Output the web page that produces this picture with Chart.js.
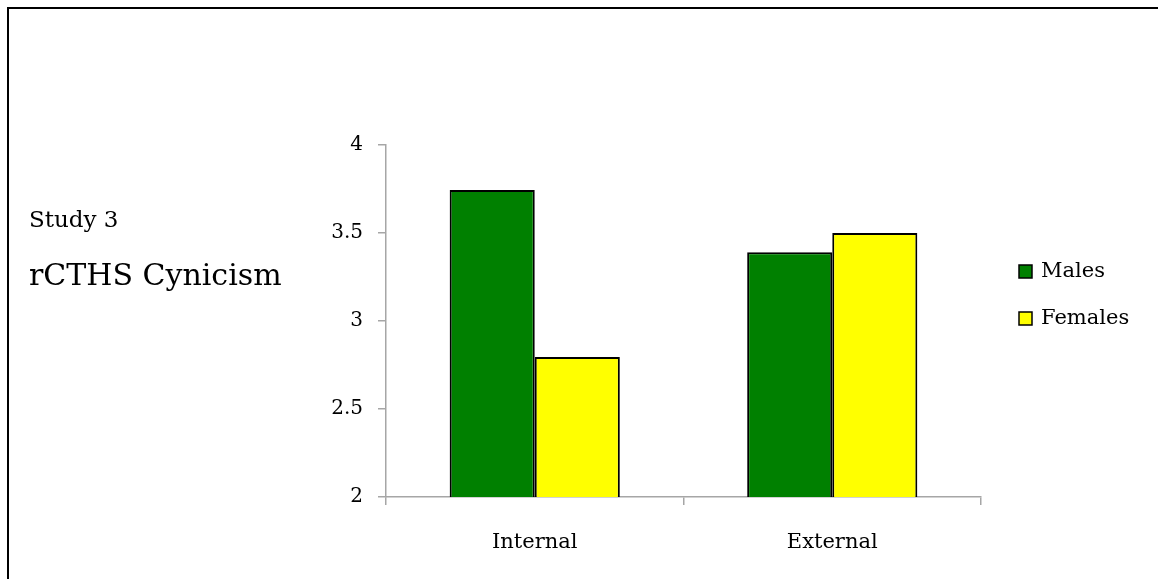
<!DOCTYPE html>
<html>
<head>
<meta charset="utf-8">
<script src="https://cdn.jsdelivr.net/npm/chart.js@4"></script>
<style>
html,body{margin:0;padding:0;background:#fff;}
#wrap{position:relative;width:1158px;height:579px;}
</style>
</head>
<body>
<div id="wrap"><canvas id="c" width="1158" height="579"></canvas></div>
<script>
const categories = ["Internal", "External"];
const seriesNames = ["Males", "Females"];
const males = [3.744, 3.39];
const females = [2.795, 3.5];
const yTicks = [2, 2.5, 3, 3.5, 4];
const subtitleText = "Study 3";
const titleText = "rCTHS Cynicism";

const FONT = "'DejaVu Serif', serif";

const decor = {
  id: 'decor',
  afterDraw(chart) {
    const ctx = chart.ctx;
    ctx.save();
    ctx.strokeStyle = '#000';
    ctx.lineWidth = 2;
    ctx.beginPath();
    ctx.moveTo(8, 579);
    ctx.lineTo(8, 8);
    ctx.lineTo(1158, 8);
    ctx.stroke();
    ctx.fillStyle = '#000';
    ctx.textBaseline = 'middle';
    ctx.textAlign = 'left';
    ctx.font = "23px " + FONT;
    ctx.fillText(subtitleText, 29, 221);
    ctx.font = "30px " + FONT;
    ctx.fillText(titleText, 29, 277);
    const ys = [272, 319];
    ctx.font = "21px " + FONT;
    chart.data.datasets.forEach((ds, i) => {
      const y = ys[i];
      ctx.fillStyle = ds.backgroundColor;
      ctx.fillRect(1019, y - 7, 13, 13);
      ctx.lineWidth = 1.5;
      ctx.strokeStyle = '#000';
      ctx.strokeRect(1019, y - 7, 13, 13);
      ctx.fillStyle = '#000';
      ctx.fillText(ds.label, 1041, y);
    });
    ctx.restore();
  }
};

new Chart(document.getElementById('c'), {
  type: 'bar',
  data: {
    labels: categories,
    datasets: [
      {label: seriesNames[0], data: males, backgroundColor: '#008000', borderColor: '#000', borderWidth: 2},
      {label: seriesNames[1], data: females, backgroundColor: '#FFFF00', borderColor: '#000', borderWidth: 2}
    ]
  },
  options: {
    responsive: false,
    animation: false,
    devicePixelRatio: 1,
    layout: {padding: {left: 0, top: 145, right: 177, bottom: 0}},
    plugins: {legend: {display: false}, tooltip: {enabled: false}, title: {display: false}},
    datasets: {bar: {categoryPercentage: 0.572, barPercentage: 1.0}},
    scales: {
      x: {
        grid: {offset: true, drawOnChartArea: false, color: '#a6a6a6', tickLength: 8, lineWidth: 1.5},
        border: {color: '#a6a6a6', width: 1.5},
        ticks: {color: '#000', font: {family: FONT, size: 21}, padding: 25},
        afterFit(s) { s.height = 82; }
      },
      y: {
        min: 2, max: 4,
        afterBuildTicks(s) { s.ticks = yTicks.map(v => ({value: v})); },
        grid: {drawOnChartArea: false, color: '#a6a6a6', tickLength: 8, lineWidth: 1.5},
        border: {color: '#a6a6a6', width: 1.5},
        ticks: {color: '#000', font: {family: FONT, size: 20}, padding: 15, callback: v => String(v)},
        afterFit(s) { s.width = 386; }
      }
    }
  },
  plugins: [decor]
});
</script>
</body>
</html>
